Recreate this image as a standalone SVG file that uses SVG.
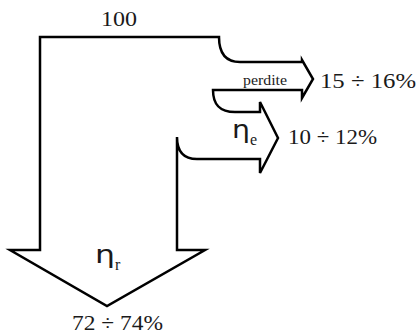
<svg xmlns="http://www.w3.org/2000/svg" width="419" height="336" viewBox="0 0 419 336">
<style>
.outline{fill:#fff;stroke:#000;stroke-width:2.5;stroke-linejoin:miter}
.num{font-family:"Liberation Serif","Times New Roman",serif;fill:#1a1a1a}
.eta{font-family:"DejaVu Sans",sans-serif;fill:#1a1a1a}
</style>
<rect width="419" height="336" fill="#fff"/>
<g id="flow">
<path class="outline" d="M40,250 L40,37 L219,37 C219,52 225,62 240,62 L302,62 L302,60 L313,79 L302,98 L302,90 L213,90 C213,105 220,112 235,112 L260,112 L260,102 L278,138 L260,173 L260,159 L197,159 C182,159 177,150 177,137 L177,250 L205,250 L107,306 L10,250 Z"/>
</g>
<g id="input"><text class="num" x="101" y="26" font-size="21" textLength="36" lengthAdjust="spacingAndGlyphs">100</text></g>
<g id="losses">
<text class="num" x="243" y="85" font-size="14" textLength="44" lengthAdjust="spacingAndGlyphs">perdite</text>
<text class="num" x="320" y="88" font-size="21" textLength="96" lengthAdjust="spacingAndGlyphs">15 ÷ 16%</text>
</g>
<g id="eta-e">
<text class="eta" x="232" y="138" font-size="25" textLength="18" lengthAdjust="spacingAndGlyphs">η</text>
<text class="num" x="250" y="145" font-size="16">e</text>
<text class="num" x="288" y="144" font-size="20" textLength="89" lengthAdjust="spacingAndGlyphs">10 ÷ 12%</text>
</g>
<g id="eta-r">
<text class="eta" x="95" y="263" font-size="25" textLength="20" lengthAdjust="spacingAndGlyphs">η</text>
<text class="num" x="115" y="270" font-size="16">r</text>
<text class="num" x="72" y="330" font-size="21" textLength="91" lengthAdjust="spacingAndGlyphs">72 ÷ 74%</text>
</g>
</svg>
